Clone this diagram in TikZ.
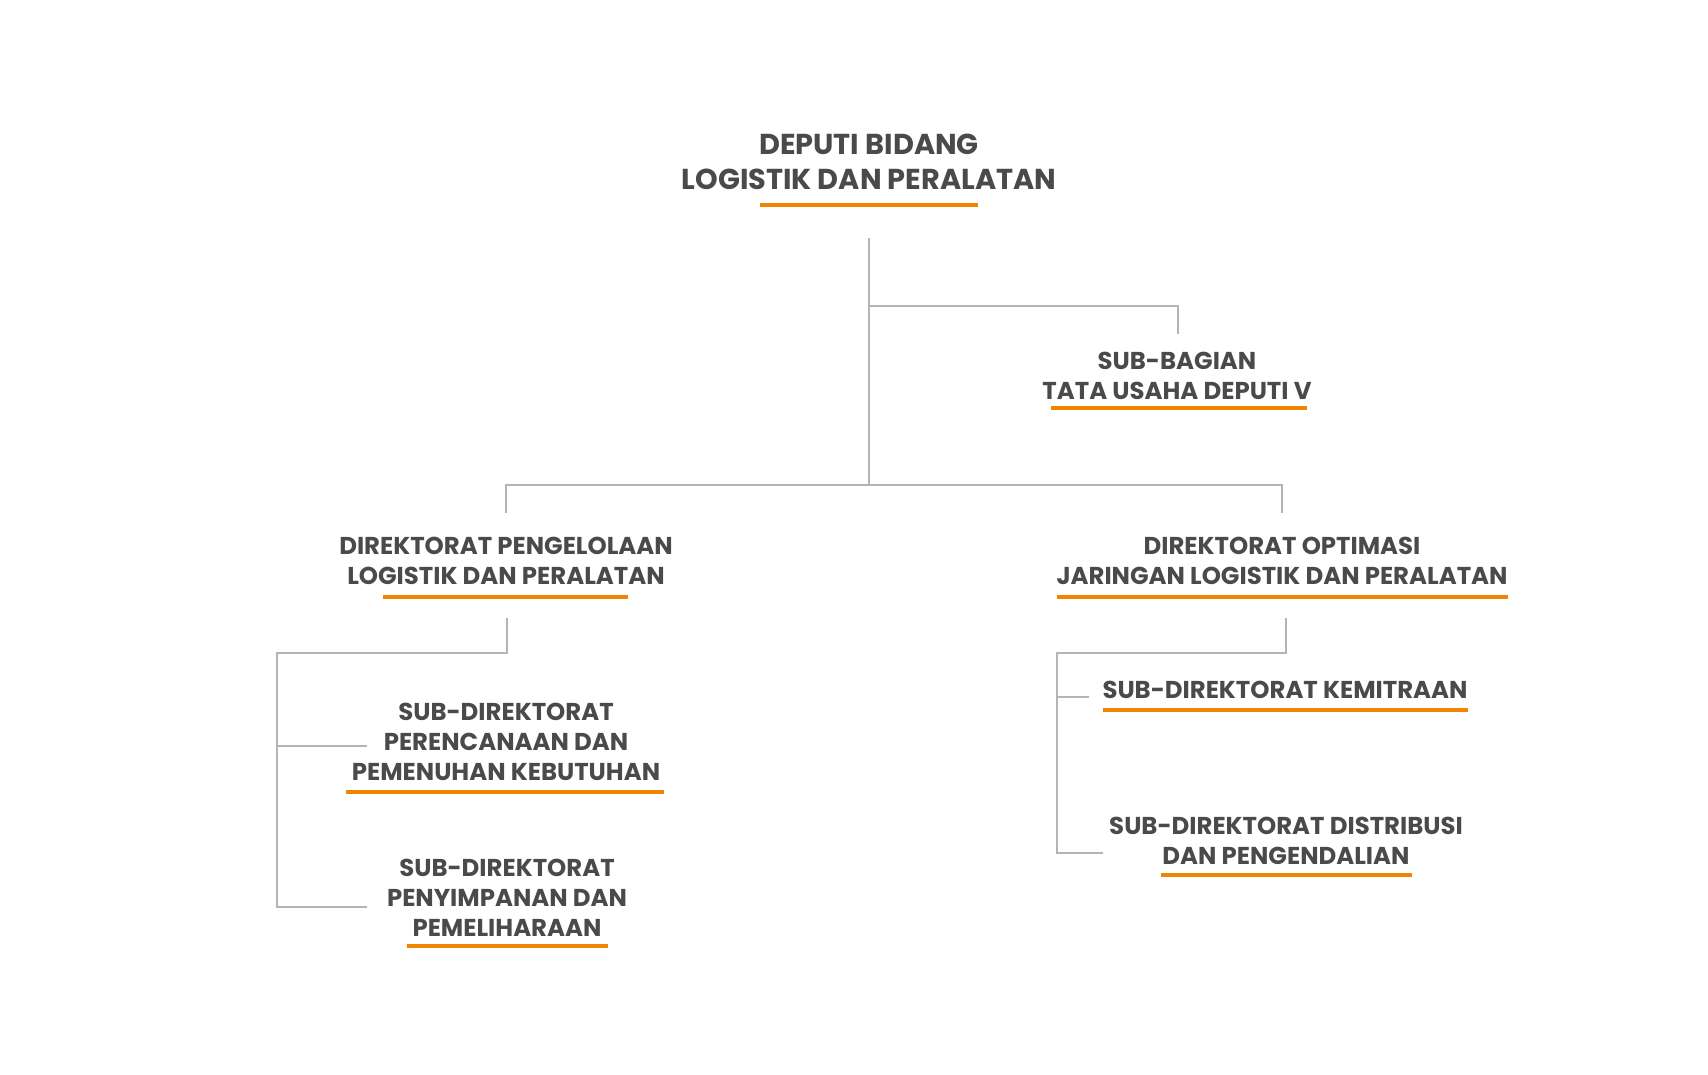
\documentclass[tikz,border=0pt]{standalone}
\usepackage{fontspec}
\setmainfont{Poppins}
\definecolor{txt}{RGB}{74,74,74}
\definecolor{ln}{RGB}{180,180,180}
\definecolor{org}{RGB}{240,132,0}
\begin{document}
\begin{tikzpicture}[x=1pt,y=-1pt,
  big/.style={font=\fontsize{28.8}{35}\selectfont\bfseries,text=txt,align=center,inner sep=0pt},
  sml/.style={font=\fontsize{24.4}{30}\selectfont\bfseries,text=txt,align=center,inner sep=0pt},
  conn/.style={draw=ln,line width=1.6pt},
  uline/.style={draw=org,line width=4pt}]
\useasboundingbox (0,0) rectangle (1708,1074);
\fill[white] (0,0) rectangle (1708,1074);
% nodes
\node[big] (dep) at (869,161.5) {DEPUTI BIDANG\\LOGISTIK DAN PERALATAN};
\node[sml] (sb) at (1177,375.5) {SUB-BAGIAN\\TATA USAHA DEPUTI V};
\node[sml] (dl) at (506,560.5) {DIREKTORAT PENGELOLAAN\\LOGISTIK DAN PERALATAN};
\node[sml] (dr) at (1282,560.5) {DIREKTORAT OPTIMASI\\JARINGAN LOGISTIK DAN PERALATAN};
\node[sml] (sl1) at (506,741.5) {SUB-DIREKTORAT\\PERENCANAAN DAN\\PEMENUHAN KEBUTUHAN};
\node[sml] (sl2) at (507,897.5) {SUB-DIREKTORAT\\PENYIMPANAN DAN\\PEMELIHARAAN};
\node[sml] (sr1) at (1285,690) {SUB-DIREKTORAT KEMITRAAN};
\node[sml] (sr2) at (1286,841) {SUB-DIREKTORAT DISTRIBUSI\\DAN PENGENDALIAN};
% underlines
\draw[uline] (760,205) -- (978,205);
\draw[uline] (1051,408) -- (1307,408);
\draw[uline] (383,597) -- (628,597);
\draw[uline] (1057,597) -- (1508,597);
\draw[uline] (346,792) -- (664,792);
\draw[uline] (407,946) -- (608,946);
\draw[uline] (1103,710) -- (1468,710);
\draw[uline] (1161,875) -- (1412,875);
% connector points
\coordinate (depb) at (869,238);
\coordinate (j1) at (869,306);
\coordinate (sbt) at (1178,334);
\coordinate (j2) at (869,485);
\coordinate (dlt) at (506,513);
\coordinate (drt) at (1282,513);
\coordinate (dlb) at (507,618);
\coordinate (dlj) at (277,653);
\coordinate (sl1l) at (367,746);
\coordinate (sl2l) at (367,907);
\coordinate (drb) at (1286,618);
\coordinate (drj) at (1057,653);
\coordinate (sr1l) at (1089,697);
\coordinate (sr2l) at (1103,853);
% connectors
\draw[conn] (depb) -- (j2);
\draw[conn] (j1) -| (sbt);
\draw[conn] (dlt) |- (j2) -| (drt);
\draw[conn] (dlb) |- (dlj) |- (sl2l);
\draw[conn] (dlj |- sl1l) -- (sl1l);
\draw[conn] (drb) |- (drj) |- (sr2l);
\draw[conn] (drj |- sr1l) -- (sr1l);
\end{tikzpicture}
\end{document}
